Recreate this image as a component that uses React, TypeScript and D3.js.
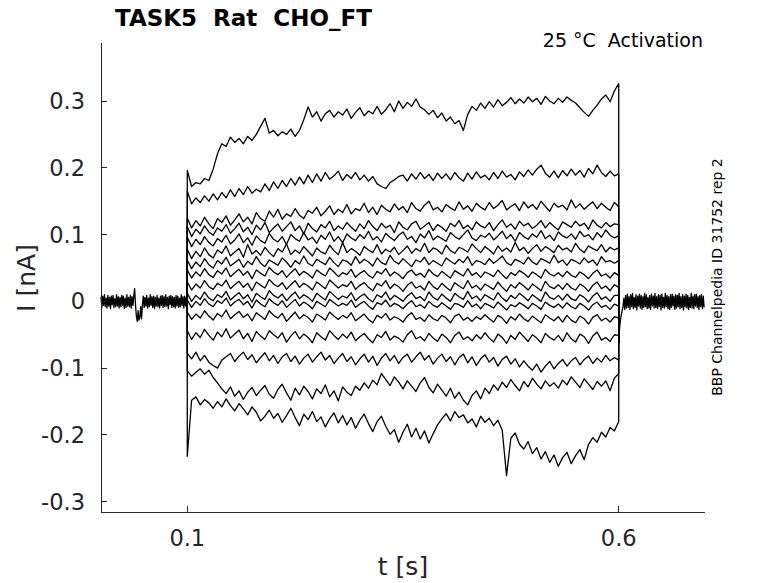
import * as d3 from 'd3'

// Patch-clamp activation sweeps, currents in pA
const STEP_ON = 0.1
const STEP_OFF = 0.6
const STEP_DT = 0.005
const BASE_DT = 0.001

const xTicks = [0.1, 0.6]
const yTicks = [0.3, 0.2, 0.1, 0, -0.1, -0.2, -0.3]

// holding current before the step (0 .. 0.099 s)
const preBaseline = [
  7, -9, 8, -6, 10, -8, 5, -10, 9, -7,
  6, -11, 8, -5, 9, -9, 4, -8, 10, -7,
  7, -10, 6, -8, 9, -6, 8, -11, 5, -9,
  10, -7, 6, -8, 9, -10, 7, -6, 8, 19,
  -6, -22, -30, -14, -28, -24, -8, -26, -5, 8,
  -9, 6, -7, 9, -10, 5, -8, 10, -6, 7,
  -9, 8, -11, 6, -7, 9, -8, 5, -10, 8,
  -6, 9, -9, 7, -8, 10, -7, 6, -11, 8,
  -5, 9, -9, 7, -8, 6, -10, 9, -7, 8,
  -9, 5, -8, 10, -6, 7, -10, 8, -7, 6,
]

// tail current after the step (0.6 .. 0.699 s)
const postBaseline = [
  -62, -40, -28, -20, -14, -8, 5, -12, 9, -10,
  11, -9, 7, -12, 10, -8, 12, -11, 6, -9,
  10, -13, 8, -7, 11, -10, 9, -12, 7, -9,
  12, -8, 10, -11, 6, -10, 9, -12, 11, -7,
  8, -10, 12, -9, 7, -11, 10, -8, 9, -13,
  11, -9, 6, -10, 12, -8, 9, -11, 7, -12,
  10, -9, 11, -7, 8, -12, 10, -10, 9, -8,
  12, -11, 7, -9, 10, -13, 8, -8, 11, -10,
  9, -12, 6, -9, 12, -10, 8, -11, 10, -7,
  11, -9, 7, -12, 9, -8, 10, -11, 8, -9,
]

// step sweeps, 0.1 .. 0.6 s every 5 ms
const sweep01 = [
  196, 172, 178, 176, 184, 181, 198, 221, 236, 232,
  246, 238, 244, 236, 247, 241, 250, 262, 274, 252,
  256, 248, 254, 250, 258, 247, 256, 272, 291, 276,
  284, 270, 281, 286, 276, 284, 279, 288, 274, 283,
  290, 278, 285, 281, 292, 280, 287, 296, 284, 300,
  289, 298, 292, 303, 291, 287, 280, 286, 275, 282,
  270, 276, 266, 271, 256, 280, 292, 286, 297, 289,
  299, 291, 302, 293, 298, 305, 296, 303, 297, 306,
  299, 304, 295, 307, 300, 296, 304, 298, 306, 301,
  297, 290, 283, 277, 286, 294, 303, 309, 299, 315,
  326,
]
const sweep02 = [
  165, 146, 155, 148, 158, 150, 161, 152, 163, 155,
  167, 157, 169, 160, 172, 162, 168, 164, 176, 166,
  179, 169, 181, 172, 184, 174, 186, 176, 189, 178,
  191, 180, 193, 183, 188, 195, 181, 190, 184, 193,
  182, 189, 180, 187, 176, 172, 169, 178, 182, 187,
  189, 180, 191, 183, 193, 184, 190, 181, 192, 184,
  191, 182, 193, 185, 180, 192, 183, 194, 185, 189,
  182, 193, 184, 195, 186, 190, 182, 194, 187, 197,
  189, 198, 204, 192, 186, 195, 185, 196, 188, 198,
  189, 196, 186, 199, 191, 204, 193, 187, 195, 188,
  191,
]
const sweep03 = [
  125, 110, 121, 113, 126, 116, 109, 124, 118, 128,
  114, 122, 131, 119, 126, 116, 133, 124, 120, 135,
  126, 138, 123, 131, 127, 139, 129, 124, 136, 132,
  141, 128, 135, 143, 130, 138, 133, 145, 131, 139,
  136, 147, 133, 141, 130, 144, 138, 134, 146, 137,
  142, 133, 148, 139, 135, 144, 150, 137, 141, 134,
  145, 140, 136, 149, 138, 143, 135, 147, 141, 137,
  148, 139, 144, 151, 137, 142, 146, 136, 149, 140,
  145, 138, 150, 142, 135, 147, 141, 144, 137, 152,
  140, 146, 138, 144, 149, 139, 147, 141, 136, 148,
  142,
]
const sweep04 = [
  112, 97, 108, 101, 113, 104, 99, 110, 105, 115,
  102, 109, 117, 104, 111, 100, 114, 107, 118, 103,
  110, 116, 105, 112, 119, 106, 113, 101, 117, 109,
  104, 115, 110, 120, 106, 113, 108, 118, 111, 105,
  116, 109, 121, 112, 106, 117, 110, 114, 103, 119,
  111, 107, 116, 120, 108, 113, 118, 106, 115, 111,
  105, 117, 112, 121, 109, 114, 107, 119, 113, 110,
  118, 106, 115, 122, 111, 116, 108, 120, 113, 117,
  109, 114, 121, 110, 118, 112, 107, 119, 115, 111,
  120, 113, 117, 108, 122, 114, 110, 118, 112, 116,
  115,
]
const sweep05 = [
  96, 82, 93, 85, 97, 88, 83, 94, 89, 99,
  86, 92, 101, 88, 95, 84, 98, 91, 87, 102,
  93, 89, 97, 85, 100, 94, 90, 103, 92, 96,
  87, 99, 93, 104, 90, 97, 88, 101, 95, 91,
  100, 94, 105, 92, 97, 89, 102, 96, 91, 99,
  104, 93, 97, 88, 101, 95, 106, 92, 98, 94,
  90, 103, 97, 93, 100, 107, 95, 91, 99, 96,
  102, 92, 98, 105, 94, 100, 90, 103, 97, 93,
  101, 96, 106, 94, 99, 91, 104, 98, 95, 101,
  93, 105, 97, 100, 92, 103, 96, 107, 99, 95,
  98,
]
const sweep06 = [
  78, 64, 75, 67, 80, 70, 65, 77, 72, 83,
  68, 74, 79, 66, 85, 71, 76, 69, 81, 73,
  67, 79, 74, 86, 70, 77, 72, 82, 75, 68,
  80, 74, 71, 84, 76, 70, 88, 73, 79, 75,
  69, 82, 77, 73, 85, 71, 78, 74, 81, 70,
  76, 83, 72, 79, 75, 87, 73, 80, 77, 71,
  84, 76, 72, 81, 78, 74, 86, 79, 73, 82,
  77, 71, 83, 75, 80, 74, 88, 76, 81, 72,
  79, 85, 75, 82, 78, 73, 84, 77, 80, 74,
  87, 78, 73, 83, 79, 76, 85, 74, 81, 77,
  80,
]
const sweep07 = [
  62, 49, 59, 52, 64, 55, 50, 61, 56, 66,
  53, 58, 63, 51, 60, 55, 67, 57, 52, 62,
  58, 54, 65, 59, 51, 61, 56, 68, 57, 53,
  63, 59, 55, 66, 58, 52, 62, 60, 54, 67,
  57, 63, 59, 53, 65, 58, 55, 69, 60, 56,
  64, 58, 52, 62, 59, 66, 55, 61, 57, 53,
  65, 60, 56, 63, 58, 67, 54, 61, 59, 55,
  64, 57, 62, 68, 58, 54, 63, 60, 56, 66,
  59, 55, 64, 61, 57, 69, 58, 62, 54, 63,
  60, 56, 65, 58, 62, 54, 67, 59, 61, 57,
  61,
]
const sweep08 = [
  47, 35, 44, 38, 49, 40, 36, 46, 41, 50,
  37, 43, 48, 39, 45, 34, 47, 42, 38, 51,
  44, 40, 46, 36, 43, 49, 39, 45, 41, 35,
  47, 42, 38, 50, 44, 37, 43, 40, 48, 36,
  42, 46, 39, 35, 45, 41, 49, 38, 44, 40,
  34, 43, 47, 39, 42, 36, 48, 41, 37, 45,
  40, 35, 46, 42, 38, 49, 39, 43, 36, 44,
  41, 37, 47, 40, 34, 43, 39, 46, 42, 36,
  44, 40, 35, 48, 41, 38, 43, 37, 45, 39,
  36, 44, 40, 34, 42, 47, 38, 41, 35, 43,
  39,
]
const sweep09 = [
  29, 17, 26, 20, 31, 22, 18, 27, 23, 32,
  19, 25, 30, 21, 27, 16, 29, 24, 20, 33,
  26, 22, 28, 18, 25, 31, 21, 27, 23, 17,
  29, 24, 19, 32, 26, 20, 25, 22, 30, 18,
  24, 28, 21, 16, 27, 23, 31, 19, 26, 22,
  15, 24, 29, 20, 23, 17, 30, 22, 18, 27,
  21, 16, 28, 23, 19, 31, 20, 24, 17, 26,
  22, 18, 29, 21, 15, 25, 20, 28, 23, 17,
  26, 21, 16, 30, 22, 19, 25, 18, 27, 20,
  17, 26, 22, 15, 24, 29, 19, 23, 16, 25,
  21,
]
const sweep10 = [
  12, 0, 9, 3, 14, 5, 1, 10, 6, 15,
  2, 8, 13, 4, 10, -1, 12, 7, 3, 16,
  9, 5, 11, 1, 8, 14, 4, 10, 6, 0,
  12, 7, 2, 15, 9, 3, 8, 5, 13, 1,
  7, 11, 4, -1, 10, 6, 14, 2, 9, 5,
  0, 8, 13, 4, 7, 1, 14, 6, 2, 11,
  5, 0, 12, 7, 3, 15, 4, 8, 1, 10,
  6, 2, 13, 5, 0, 9, 4, 12, 7, 1,
  10, 5, 0, 14, 6, 3, 9, 2, 11, 4,
  1, 10, 6, -1, 8, 13, 3, 7, 0, 9,
  9,
]
const sweep11 = [
  2, -9, 0, -6, 4, -4, -8, 1, -3, 5,
  -7, -1, 3, -5, 0, -10, 2, -4, -8, 4,
  -2, -6, 1, -9, -3, 3, -7, -1, -5, -11,
  0, -4, -8, 3, -2, -7, -3, -6, 2, -9,
  -4, 0, -7, -12, -2, -5, 2, -8, -3, -6,
  -11, -4, 1, -8, -5, -10, 0, -6, -9, -2,
  -7, -12, -3, -5, -9, 1, -8, -4, -11, -3,
  -6, -10, -1, -7, -13, -5, -8, -2, -6, -11,
  -3, -7, -12, -1, -6, -9, -4, -10, -2, -8,
  -11, -3, -7, -13, -5, -1, -9, -6, -12, -4,
  -7,
]
const sweep12 = [
  -16, -27, -19, -25, -14, -22, -28, -18, -23, -13,
  -26, -20, -15, -24, -19, -29, -17, -22, -27, -14,
  -21, -25, -18, -30, -23, -16, -26, -20, -24, -31,
  -19, -23, -28, -16, -22, -27, -21, -25, -17, -29,
  -24, -19, -27, -32, -21, -25, -18, -28, -23, -26,
  -31, -22, -17, -27, -24, -30, -20, -26, -29, -21,
  -25, -32, -22, -19, -28, -24, -30, -23, -27, -20,
  -26, -31, -21, -25, -33, -23, -28, -19, -26, -30,
  -22, -27, -32, -20, -25, -29, -23, -31, -21, -28,
  -32, -22, -26, -34, -24, -20, -29, -25, -31, -23,
  -25,
]
const sweep13 = [
  -44, -57, -47, -54, -42, -51, -58, -46, -53, -41,
  -55, -49, -43, -56, -48, -60, -45, -52, -57, -44,
  -50, -55, -47, -61, -52, -45, -56, -49, -54, -62,
  -47, -53, -58, -44, -51, -57, -49, -55, -46, -59,
  -53, -48, -56, -62, -50, -54, -45, -58, -52, -55,
  -61, -50, -44, -56, -53, -59, -48, -55, -60, -49,
  -54, -62, -51, -46, -57, -53, -59, -50, -56, -47,
  -55, -61, -49, -54, -63, -51, -57, -46, -53, -60,
  -50, -55, -62, -48, -54, -58, -51, -60, -47, -56,
  -61, -49, -53, -63, -52, -46, -58, -54, -60, -50,
  -51,
]
const sweep14 = [
  -78, -86, -76, -89, -81, -91, -96, -100, -88, -83,
  -78, -90, -82, -76, -87, -80, -92, -84, -77, -89,
  -81, -93, -83, -78, -90, -82, -94, -85, -79, -91,
  -83, -76, -88, -81, -93, -85, -78, -90, -83, -95,
  -86, -79, -91, -82, -96, -85, -78, -89, -81, -93,
  -84, -79, -91, -83, -76, -88, -81, -94, -85, -79,
  -90, -83, -95, -84, -79, -92, -83, -96, -86, -80,
  -91, -84, -97, -87, -82, -94, -86, -98, -89, -97,
  -103, -94, -106, -97, -90, -101, -93, -87, -97, -89,
  -84, -95, -87, -82, -93, -85, -91, -81, -89, -84,
  -88,
]
const sweep15 = [
  -104, -112, -106, -101, -109, -103, -114, -122, -131, -138,
  -128, -142, -134, -147, -136, -129, -141, -133, -126, -139,
  -145, -132, -124, -137, -148, -130, -140, -127, -135, -146,
  -131, -138, -125, -143, -134, -149, -128, -136, -141, -127,
  -133, -122, -130, -118, -125, -108, -117, -126, -113, -121,
  -131, -119, -127, -135, -122, -114, -129, -137, -124, -133,
  -142, -130, -145, -136, -148, -155, -141, -134, -146, -130,
  -138, -125, -133, -121, -129, -117, -126, -134, -120, -128,
  -115, -124, -131, -119, -127, -122, -130, -118, -125, -113,
  -121, -129, -116, -124, -132, -120, -127, -119, -134, -115,
  -108,
]
const sweep16 = [
  -232, -148, -143, -155, -147, -152, -160, -150, -158, -146,
  -156, -164, -153, -161, -170, -158, -166, -179, -172, -163,
  -175, -168, -181, -171, -160, -174, -186, -169, -177, -165,
  -180, -173, -188, -176, -167, -182, -171, -185, -174, -190,
  -178, -169, -183, -195, -180, -172, -187, -199, -192, -211,
  -196, -184, -203, -190, -206, -194, -212, -198, -185, -176,
  -168, -179, -165, -174, -170, -182, -176, -188, -172, -181,
  -175, -186, -178, -193, -261, -205, -197, -214, -221, -210,
  -228, -219, -236, -225, -241, -230, -247, -234, -226, -243,
  -231, -222, -237, -214, -204, -211, -196, -203, -189, -194,
  -180,
]

const sweeps = [
  sweep01, sweep02, sweep03, sweep04, sweep05, sweep06, sweep07, sweep08,
  sweep09, sweep10, sweep11, sweep12, sweep13, sweep14, sweep15, sweep16,
]

const FONT = "'DejaVu Sans', sans-serif"
const AXIS_COLOR = '#262626'

export default function App() {
  const width = 778
  const height = 583
  const plot = { left: 101, right: 705, top: 43, bottom: 512 }

  const x = d3.scaleLinear().domain([0, 0.7]).range([plot.left, plot.right])
  const y = d3.scaleLinear().domain([-0.3154, 0.3869]).range([plot.bottom, plot.top])

  // values are pA, axis is nA
  const line = d3
    .line<[number, number]>()
    .x(d => x(d[0]))
    .y(d => y(d[1] / 1000))

  const prePts = preBaseline.map((v, i) => [i * BASE_DT, v] as [number, number])
  const postPts = postBaseline.map((v, i) => [STEP_OFF + i * BASE_DT, v] as [number, number])

  const tracePts = sweeps.map(s => [
    [STEP_ON, preBaseline[preBaseline.length - 1]] as [number, number],
    ...s.map((v, i) => [STEP_ON + i * STEP_DT, v] as [number, number]),
    [STEP_OFF, postBaseline[0]] as [number, number],
  ])

  return (
    <svg
      width={width}
      height={height}
      style={{ position: 'absolute', left: 0, top: 0, background: '#fff' }}
      fontFamily={FONT}
    >
      <rect width={width} height={height} fill="#fff" />

      {/* traces */}
      <g fill="none" stroke="#000" strokeWidth={1.3} strokeLinejoin="round">
        <path d={line(prePts) ?? ''} />
        <path d={line(postPts) ?? ''} />
        {tracePts.map((pts, i) => (
          <path key={i} d={line(pts) ?? ''} />
        ))}
      </g>

      {/* axes */}
      <g stroke={AXIS_COLOR} strokeWidth={1} shapeRendering="crispEdges">
        <line x1={plot.left} x2={plot.left} y1={plot.top} y2={plot.bottom} />
        <line x1={plot.left} x2={plot.right} y1={plot.bottom} y2={plot.bottom} />
        {yTicks.map(t => (
          <line key={t} x1={plot.left} x2={plot.left + 6} y1={y(t)} y2={y(t)} />
        ))}
        {xTicks.map(t => (
          <line key={t} x1={x(t)} x2={x(t)} y1={plot.bottom} y2={plot.bottom - 6} />
        ))}
      </g>

      <g fill={AXIS_COLOR} fontSize={22.5}>
        {yTicks.map(t => (
          <text key={t} x={85} y={y(t)} dy="0.36em" textAnchor="end">
            {t === 0 ? '0' : String(t)}
          </text>
        ))}
        {xTicks.map(t => (
          <text key={t} x={x(t)} y={546} textAnchor="middle">
            {String(t)}
          </text>
        ))}
      </g>

      <text x={403} y={575} textAnchor="middle" fontSize={25} fill={AXIS_COLOR}>
        t [s]
      </text>
      <text
        transform={`translate(35,${278}) rotate(-90)`}
        textAnchor="middle"
        fontSize={25}
        fill={AXIS_COLOR}
      >
        I [nA]
      </text>

      <text x={115} y={26} fontSize={23} fontWeight="bold" fill="#000" style={{ whiteSpace: 'pre' }}>
        {'TASK5  Rat  CHO_FT'}
      </text>
      <text x={703} y={47} fontSize={19} textAnchor="end" fill="#000" style={{ whiteSpace: 'pre' }}>
        {'25 °C  Activation'}
      </text>
      <text
        transform={`translate(722,${277}) rotate(-90)`}
        textAnchor="middle"
        fontSize={14}
        fill="#000"
      >
        BBP Channelpedia ID 31752 rep 2
      </text>
    </svg>
  )
}
